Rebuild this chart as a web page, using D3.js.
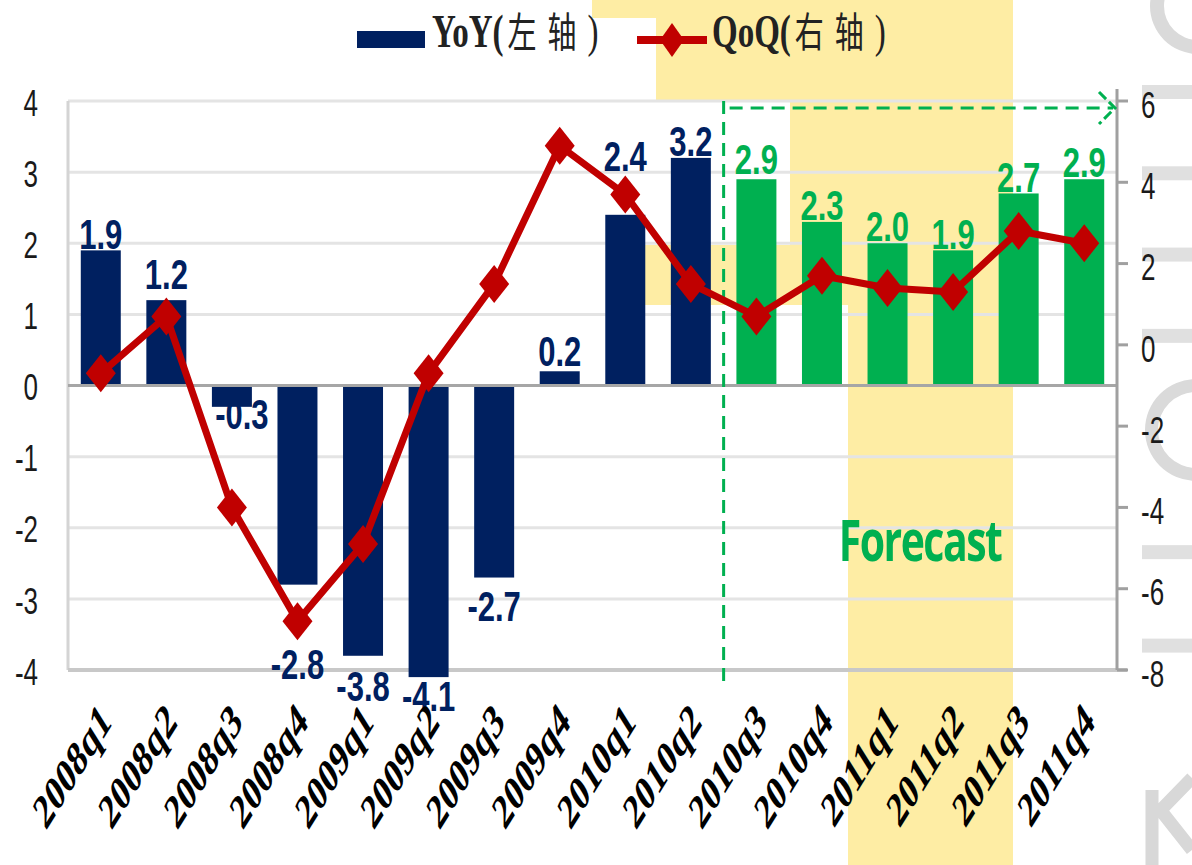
<!DOCTYPE html>
<html>
<head>
<meta charset="utf-8">
<script src="https://cdn.jsdelivr.net/npm/d3@7"></script>
<style>
  html, body { margin: 0; padding: 0; background: #ffffff; }
  svg { display: block; }
</style>
</head>
<body>
<div id="chart"></div>
<script>
// quarters on the x axis
let categories = ["2008q1", "2008q2", "2008q3", "2008q4", "2009q1", "2009q2", "2009q3", "2009q4",
                  "2010q1", "2010q2", "2010q3", "2010q4", "2011q1", "2011q2", "2011q3", "2011q4"];
// YoY growth, left axis (bars)
let yoy = [1.9, 1.2, -0.3, -2.8, -3.8, -4.1, -2.7, 0.2, 2.4, 3.2, 2.9, 2.3, 2.0, 1.9, 2.7, 2.9];
// QoQ growth, right axis (line)
let qoq = [-0.7, 0.7, -4.0, -6.8, -4.9, -0.7, 1.5, 4.9, 3.7, 1.5, 0.7, 1.7, 1.4, 1.3, 2.8, 2.5];
// first forecast quarter
let forecastFrom = "2010q3";
// tick labels
let leftTicks = [-4, -3, -2, -1, 0, 1, 2, 3, 4];
let rightTicks = [-8, -6, -4, -2, 0, 2, 4, 6];
let legendNames = [["YoY(", "左轴", ")"], ["QoQ(", "右轴", ")"]];

// size of the picture
let width = 1192, height = 865;
let plot = {left: 68, right: 1117, top: 101, bottom: 670};
// vertical stretch of all texts (the source picture is stretched)
let stretch = 1.4;

let navy = "#002060", green = "#00B050", red = "#C00000", yellow = "#FEEDA4";

let svg = d3.select("#chart").append("svg")
    .attr("width", width)
    .attr("height", height);

let x = d3.scaleBand()
    .domain(categories)
    .range([plot.left, plot.right])
    .paddingInner(0.39)
    .paddingOuter(0.195);
let yL = d3.scaleLinear().domain([-4, 4]).range([plot.bottom, plot.top]);
let yR = d3.scaleLinear().domain([-8, 6]).range([plot.bottom, plot.top]);
let cx = d => x(d) + x.bandwidth() / 2;
let isForecast = (d, i) => i >= categories.indexOf(forecastFrom);
let fmt = v => d3.format(".1f")(v).replace("\u2212", "-");

// text helper: stretched text placed at (px, py)
function stext(g, px, py, str) {
    return g.append("text")
        .attr("transform", "translate(" + px + "," + py + ") scale(1," + stretch + ")")
        .attr("dy", "0.35em")
        .text(str);
}

// background shapes
let bg = svg.append("g");
[[592, 0, 421, 18], [656, 18, 357, 83], [790, 101, 223, 145], [645, 245, 368, 60], [848, 305, 165, 560]]
    .forEach(r => bg.append("rect").attr("x", r[0]).attr("y", r[1]).attr("width", r[2]).attr("height", r[3]).attr("fill", yellow));

// grey watermark pieces at the right edge
let wmArc = d3.arc();
bg.append("path").attr("transform", "translate(1196,430)").attr("fill", "#dadada")
    .attr("d", wmArc({innerRadius: 38, outerRadius: 51, startAngle: Math.PI, endAngle: 2 * Math.PI}));
bg.append("path").attr("transform", "translate(1198,6)").attr("fill", "#dadada")
    .attr("d", wmArc({innerRadius: 34, outerRadius: 48, startAngle: Math.PI, endAngle: 2 * Math.PI}));
let wm = svg.append("g").attr("fill", "none").attr("stroke", "#d8d8d8").attr("stroke-width", 13);
wm.append("path").attr("d", "M1152,790 L1152,865 M1156,815 L1192,778 M1162,812 L1192,850");
[6, 4, 2, 0].forEach(t => bg.append("rect").attr("x", 1142).attr("y", yR(t) - 16).attr("width", 50).attr("height", 14).attr("fill", "#e0e0e0"));
[-5.1, -7.4].forEach(t => bg.append("rect").attr("x", 1142).attr("y", yR(t) - 7).attr("width", 50).attr("height", 14).attr("fill", "#e0e0e0"));

// grid lines
svg.append("g").selectAll("line")
    .data(leftTicks.filter(t => t !== 0 && t !== -4))
    .enter().append("line")
    .attr("x1", plot.left).attr("x2", plot.right)
    .attr("y1", d => yL(d)).attr("y2", d => yL(d))
    .attr("stroke", "#e4e4e4").attr("stroke-width", 3);

// plot frame
svg.append("line").attr("x1", plot.left).attr("x2", plot.left).attr("y1", plot.top).attr("y2", plot.bottom)
    .attr("stroke", "#d4d4d4").attr("stroke-width", 3);
svg.append("line").attr("x1", plot.left).attr("x2", plot.right + 10).attr("y1", plot.bottom).attr("y2", plot.bottom)
    .attr("stroke", "#c8c8c8").attr("stroke-width", 4);

// bars
svg.append("g").selectAll("rect")
    .data(yoy)
    .enter().append("rect")
    .attr("x", (d, i) => x(categories[i]))
    .attr("width", x.bandwidth())
    .attr("y", d => yL(Math.max(0, d)))
    .attr("height", d => Math.abs(yL(d) - yL(0)))
    .attr("fill", (d, i) => isForecast(d, i) ? green : navy);

// zero line
svg.append("line").attr("x1", plot.left).attr("x2", plot.right).attr("y1", yL(0)).attr("y2", yL(0))
    .attr("stroke", "#a6a6a6").attr("stroke-width", 3);

// right axis
let rAxis = svg.append("g");
rAxis.append("line").attr("x1", plot.right).attr("x2", plot.right).attr("y1", plot.top - 12).attr("y2", plot.bottom)
    .attr("stroke", "#a0a0a0").attr("stroke-width", 3);
rAxis.selectAll(".tick").data(rightTicks).enter().append("line")
    .attr("x1", plot.right).attr("x2", plot.right + 11)
    .attr("y1", d => yR(d)).attr("y2", d => yR(d))
    .attr("stroke", "#a0a0a0").attr("stroke-width", 3);
rightTicks.forEach(t => stext(rAxis, 1141, yR(t) + 4, t)
    .attr("font-family", "Liberation Sans, Arial, sans-serif").attr("font-size", 26).attr("fill", "#1a1a1a"));

// left axis labels
let lAxis = svg.append("g");
leftTicks.forEach(t => stext(lAxis, 38, yL(t) + 2, t)
    .attr("text-anchor", "end")
    .attr("font-family", "Liberation Sans, Arial, sans-serif").attr("font-size", 26).attr("fill", "#1a1a1a"));

// forecast marks
let fx = (x(forecastFrom) + x(categories[categories.indexOf(forecastFrom) - 1]) + x.bandwidth()) / 2;
let dash = svg.append("g").attr("stroke", green).attr("stroke-width", 3).attr("fill", "none")
    .attr("stroke-dasharray", "13,8");
dash.append("line").attr("x1", fx).attr("x2", fx).attr("y1", plot.top).attr("y2", plot.bottom + 15);
dash.append("line").attr("x1", fx + 6).attr("x2", plot.right - 4).attr("y1", plot.top + 7).attr("y2", plot.top + 7);
svg.append("path")
    .attr("d", "M" + (plot.right - 18) + "," + (plot.top - 9) + " L" + (plot.right - 2) + "," + (plot.top + 7) +
               " L" + (plot.right - 18) + "," + (plot.top + 23))
    .attr("fill", "none").attr("stroke", green).attr("stroke-width", 3).attr("stroke-dasharray", "10,4");
stext(svg, 920, 541, "Forecast")
    .attr("text-anchor", "middle")
    .attr("font-family", "Open Sans, Lato, sans-serif").attr("font-weight", 700)
    .attr("font-size", 41).attr("letter-spacing", -1.5).attr("fill", green);

// QoQ line
let line = d3.line().x((d, i) => cx(categories[i])).y(d => yR(d));
svg.append("path").datum(qoq)
    .attr("d", line)
    .attr("fill", "none").attr("stroke", red).attr("stroke-width", 7).attr("stroke-linejoin", "round");
let diamond = (w, h) => "M0," + (-h) + " L" + w + ",0 L0," + h + " L" + (-w) + ",0Z";
svg.append("g").selectAll("path")
    .data(qoq)
    .enter().append("path")
    .attr("transform", (d, i) => "translate(" + cx(categories[i]) + "," + yR(d) + ")")
    .attr("d", diamond(15, 19))
    .attr("fill", red);

// data labels (nudges keep them off the line markers)
let labelNudge = [0, -9, -12, 60, 11, 0, 9, -3, -42, 0, -3, 0, 0, 0, 0, 0];
let labels = svg.append("g");
yoy.forEach((v, i) => {
    let py = v >= 0 ? yL(v) - 17 : yL(v) + 19;
    stext(labels, cx(categories[i]) + (i === 2 ? 10 : 0), py + labelNudge[i], fmt(v))
        .attr("text-anchor", "middle")
        .attr("font-family", "Liberation Sans, Arial, sans-serif").attr("font-weight", 700)
        .attr("font-size", 31).attr("fill", isForecast(v, i) ? green : navy);
});

// x axis labels
let xl = svg.append("g");
categories.forEach(c => {
    xl.append("text")
        .attr("transform", "translate(" + (cx(c) + 12) + ",724) scale(1,1.6) rotate(-45)")
        .attr("text-anchor", "end")
        .attr("font-family", "Liberation Serif, Times New Roman, serif").attr("font-weight", 700)
        .attr("font-size", 31).attr("fill", "#000")
        .text(c);
});

// legend
let lg = svg.append("g").attr("fill", "#222");
function legendText(px, parts) {
    let t = stext(lg, px, 39, "");
    t.append("tspan").attr("font-family", "Liberation Serif, serif").attr("font-weight", 700)
        .attr("font-size", 33).text(parts[0]);
    t.append("tspan").attr("font-family", "Noto Sans CJK SC, sans-serif").attr("font-size", 29)
        .attr("dx", 4).attr("letter-spacing", 11).text(parts[1]);
    t.append("tspan").attr("font-family", "Liberation Serif, serif").attr("font-size", 33).text(parts[2]);
}
lg.append("rect").attr("x", 357).attr("y", 31).attr("width", 68).attr("height", 17).attr("fill", navy);
legendText(432, legendNames[0]);
lg.append("line").attr("x1", 637).attr("x2", 707).attr("y1", 40).attr("y2", 40)
    .attr("stroke", red).attr("stroke-width", 8);
lg.append("path").attr("transform", "translate(672,40)").attr("d", diamond(12, 17)).attr("fill", red);
legendText(712, legendNames[1]);
</script>
</body>
</html>
